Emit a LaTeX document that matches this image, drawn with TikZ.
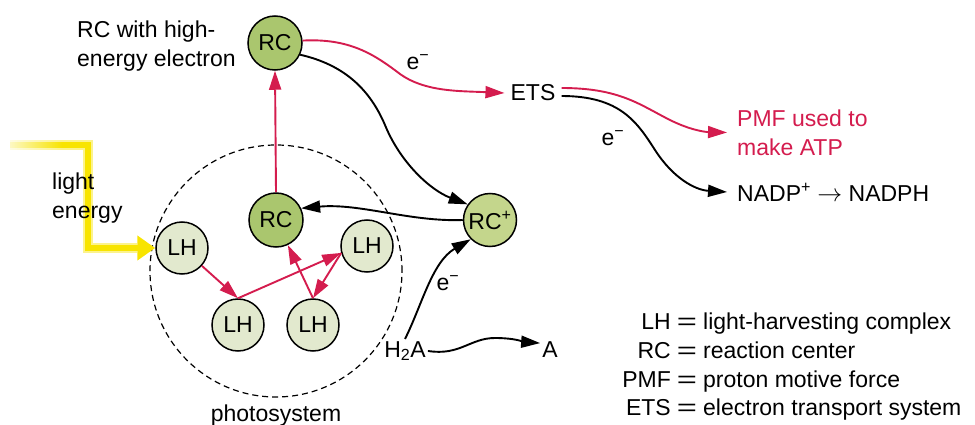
\documentclass[tikz,border=0pt]{standalone}
\usepackage{fontspec}
\setmainfont{Liberation Sans}
\usepackage{graphicx}
\usetikzlibrary{arrows.meta,calc,fadings}
\definecolor{myred}{RGB}{212,28,78}
\definecolor{rcfill}{RGB}{170,198,110}
\definecolor{rcpfill}{RGB}{196,214,140}
\definecolor{lhfill}{RGB}{226,233,206}
\definecolor{lightyel}{RGB}{248,228,0}
\tikzfading[name=fadeout right, left color=transparent!0, right color=transparent!100]
\newcommand{\myelec}{e\textsuperscript{\char"2212}}
\begin{document}
\begin{tikzpicture}[x=1pt,y=-1pt,
  font=\fontsize{23}{29}\selectfont,
  disc/.style={circle, draw=black, line width=1.5pt, minimum size=54pt, inner sep=0pt},
  rcdisc/.style={disc, fill=rcfill},
  lhdisc/.style={disc, fill=lhfill, minimum size=52pt},
  lbl/.style={inner sep=0pt},
  redarr/.style={draw=myred, line width=1.9pt, -{Triangle[length=19pt,width=12pt]}},
  blkarr/.style={draw=black, line width=1.9pt, -{Triangle[length=19pt,width=12pt]}},
  elec/.style={inner sep=0pt},
]
\useasboundingbox (0,0) rectangle (975,425);

% photosystem boundary
\node[circle, draw, dash pattern=on 6pt off 4pt, line width=1.2pt, minimum size=252pt, inner sep=0pt] (ps) at (276,271) {};

% discs
\node[rcdisc] (rcT) at (275,43) {RC};
\node[rcdisc] (rcL) at (276,220) {RC};
\node[lhdisc] (lh1) at (182,248) {LH};
\node[lhdisc] (lh2) at (238,325) {LH};
\node[lhdisc] (lh3) at (313,325) {LH};
\node[lhdisc] (lh4) at (367,246) {LH};
\node[disc, fill=rcpfill, minimum size=53pt] (rcp) at (490,220) {RC\textsuperscript{+}};

% light energy arrow
\coordinate (lightsrc) at (10,145);
\draw[lightyel!45, line width=10pt, line cap=butt] (lightsrc) -- (88,145) |- ($(lh1.west)+(-18,0)$);
\draw[lightyel, line width=6.5pt, -{Triangle[length=18pt,width=24pt]}] (lightsrc) -- (88,145) |- (lh1.west);
\fill[white, fill opacity=0.85, path fading=fadeout right] (4,136) rectangle (62,155);

% text labels
\node[lbl, align=left, anchor=west] (rchi) at (77,46) {RC with high-\\energy electron};
\node[lbl, align=left, anchor=west] (light) at (52,198) {light\\energy};
\node[inner xsep=6pt, inner ysep=0pt] (ets) at (533,93) {ETS};
\node[align=left, anchor=west, text=myred, inner xsep=10pt, inner ysep=0pt] (pmf) at (727,132.5) {PMF used to\\make ATP};
\node[anchor=west, inner xsep=10pt, inner ysep=0pt] (nadp) at (727,192) {NADP\textsuperscript{+} $\rightarrow$ NADPH};
\node[inner sep=2pt, anchor=base] (h2a) at (405,357) {H\textsubscript{2}A};
\node[inner sep=2pt, anchor=base] (a) at (550,357) {A};
\node[lbl, anchor=base] (pslabel) at (276,421) {photosystem};
\node[elec] (e1) at (418,62) {\myelec};
\node[elec] (e2) at (613,138) {\myelec};
\node[elec] (e3) at (448,283) {\myelec};

% red energy transfer arrows
\draw[redarr] (rcL.north) -- (rcT.south);
\draw[redarr] (lh1) -- (lh2.north);
\draw[redarr] (lh2.north) -- (lh4.195);
\draw[redarr] (lh4.195) -- (lh3.north);
\draw[redarr] (lh3.north) -- (rcL);

% electron flow
\draw[blkarr] (rcT.-25) .. controls (345,65) and (370,90) .. (385,125) .. controls (400,162) and (430,190) .. (rcp.145);
\draw[blkarr] (rcp.west) .. controls (410,222) and (360,203) .. (rcL.25);
\draw[redarr] (rcT.5) .. controls (350,38) and (375,55) .. (400,74) .. controls (425,92) and (460,91) .. (ets.west);
\draw[redarr] ($(ets.east)+(0,-5)$) .. controls (620,88) and (640,105) .. (670,120) .. controls (690,130) and (705,132) .. (pmf.west);
\draw[blkarr] ($(ets.east)+(0,3)$) .. controls (620,96) and (637,122) .. (655,150) .. controls (673,178) and (695,190) .. (nadp.west);
\draw[blkarr] (h2a.north) .. controls (422,305) and (432,262) .. (rcp.225);
\draw[blkarr] (h2a.east) .. controls (460,356) and (470,338) .. (495,338) .. controls (515,338) and (525,342) .. ($(a.west)+(0,-6)$);

% legend
\foreach \k/\lab/\desc/\yy in {1/LH/light-harvesting complex/329, 2/RC/reaction center/358, 3/PMF/proton motive force/387, 4/ETS/electron transport system/415}{
  \node[lbl, anchor=base east] (legk\k) at (671,\yy) {\lab};
  \node[lbl, anchor=base] (legeq\k) at (687,\yy) {\scalebox{1.5}[1]{=}};
  \node[lbl, anchor=base west] (legd\k) at (703,\yy) {\desc};
}
\end{tikzpicture}
\end{document}
